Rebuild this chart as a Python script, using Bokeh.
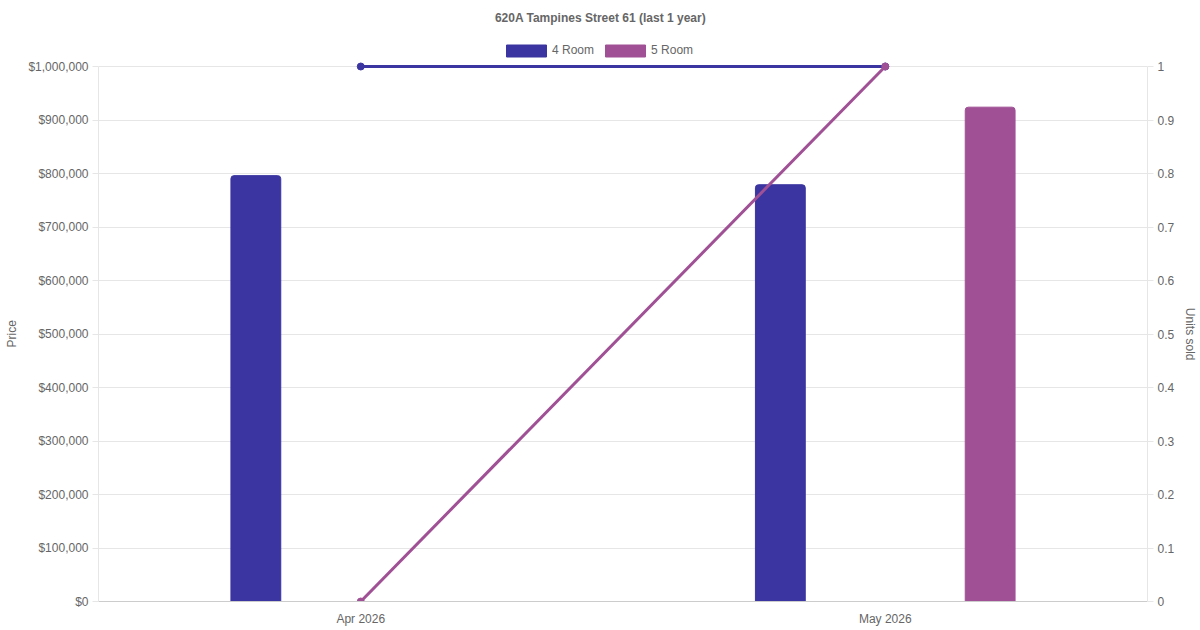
from bokeh.plotting import figure
from bokeh.models import (FactorRange, Range1d, LinearAxis, NumeralTickFormatter, Legend,
                          LegendItem, ColumnDataSource, FixedTicker, Label, Title)
from bokeh.transform import dodge
from bokeh.embed import file_html
from bokeh.resources import INLINE

# ---- data ----
months = ["Apr 2026", "May 2026"]
price_4room = [796000, 779000]
price_5room = [None, 924000]
units_4room = [1, 1]
units_5room = [0, 1]
chart_title = "620A Tampines Street 61 (last 1 year)"
left_label = "Price"
right_label = "Units sold"
price_ticks = [0, 100000, 200000, 300000, 400000, 500000, 600000, 700000, 800000, 900000, 1000000]
unit_ticks = [0, 0.1, 0.2, 0.3, 0.4, 0.5, 0.6, 0.7, 0.8, 0.9, 1]
price_max = 1_000_000
units_max = 1

# ---- layout / style ----
W, H = 1200, 630
AXIS_TOP = 66        # pixel row of the top tick (max value)
FRAME_BOTTOM = 601   # pixel row of the zero line
FRAME_LEFT = 98
FRAME_RIGHT = 1147
C4 = "#3a35a0"
C5 = "#a05195"
FONT = "Liberation Sans"
TXT = "#666666"
GRID = "#e6e6e6"

# the frame reaches the top of the canvas so that title and legend can sit in it;
# scale the range so that the max tick sits at AXIS_TOP
ext = FRAME_BOTTOM / (FRAME_BOTTOM - AXIS_TOP)

src = ColumnDataSource(dict(
    month=months,
    p4=[float("nan") if v is None else v for v in price_4room],
    p5=[float("nan") if v is None else v for v in price_5room],
    u4=units_4room,
    u5=units_5room,
))

p = figure(x_range=FactorRange(*months), y_range=Range1d(0, price_max * ext),
           width=W, height=H, output_backend="svg", toolbar_location=None, title=None,
           min_border_left=FRAME_LEFT, min_border_right=W - FRAME_RIGHT,
           min_border_top=0, min_border_bottom=H - FRAME_BOTTOM)
p.extra_y_ranges = {"units": Range1d(0, units_max * ext)}
p.x_range.range_padding = 0

b4 = p.vbar(x=dodge("month", -0.2, range=p.x_range), top="p4", width=0.095, source=src,
            fill_color=C4, line_color=C4, border_radius=(3, 3, 0, 0))
b5 = p.vbar(x=dodge("month", 0.2, range=p.x_range), top="p5", width=0.095, source=src,
            fill_color=C5, line_color=C5, border_radius=(3, 3, 0, 0))

p.line(x="month", y="u4", source=src, y_range_name="units", line_color=C4, line_width=3)
p.scatter(x="month", y="u4", source=src, y_range_name="units", size=7, fill_color=C4, line_color=C4)
p.line(x="month", y="u5", source=src, y_range_name="units", line_color=C5, line_width=3)
p.scatter(x="month", y="u5", source=src, y_range_name="units", size=7, fill_color=C5, line_color=C5)

# title (inside the frame's top strip)
p.add_layout(Label(x=W / 2 - FRAME_LEFT, y=FRAME_BOTTOM - 17, x_units="screen", y_units="screen",
                   text=chart_title, text_align="center", text_baseline="middle",
                   text_font=FONT, text_font_size="12px", text_font_style="bold",
                   text_color=TXT))

def tick_style(ax):
    ax.major_label_text_font = FONT
    ax.major_label_text_font_size = "12px"
    ax.major_label_text_color = TXT
    ax.major_label_standoff = 4
    ax.major_tick_out = 6
    ax.major_tick_in = 0
    ax.major_tick_line_color = GRID
    ax.minor_tick_line_color = None
    ax.axis_line_color = GRID

# left axis
ya = p.yaxis[0]
ya.ticker = FixedTicker(ticks=price_ticks)
ya.bounds = (0, price_max)
ya.formatter = NumeralTickFormatter(format="$0,0")
tick_style(ya)

# right axis
ra = LinearAxis(y_range_name="units", ticker=FixedTicker(ticks=unit_ticks),
                formatter=NumeralTickFormatter(format="0.[0]"), bounds=(0, units_max))
tick_style(ra)
p.add_layout(ra, "right")

# axis titles, centred on the bounded axes (0 .. max)
p.add_layout(Title(text=left_label, align="left", offset=254, vertical_align="top",
                   standoff=9, text_font=FONT, text_font_size="12px",
                   text_font_style="normal", text_color=TXT), "left")
p.add_layout(Title(text=right_label, align="right", offset=241, vertical_align="top",
                   standoff=6, text_font=FONT, text_font_size="12px",
                   text_font_style="normal", text_color=TXT), "right")

# x axis
xa = p.xaxis[0]
xa.major_label_text_font = FONT
xa.major_label_text_font_size = "12px"
xa.major_label_text_color = TXT
xa.major_label_standoff = 10
xa.major_tick_line_color = None
xa.major_tick_out = 0
xa.axis_line_color = "#cccccc"

p.xgrid.visible = False
p.ygrid.ticker = FixedTicker(ticks=price_ticks)
p.ygrid.grid_line_color = GRID
p.outline_line_color = None

legend = Legend(items=[LegendItem(label="4 Room", renderers=[b4]),
                       LegendItem(label="5 Room", renderers=[b5])],
                orientation="horizontal", location=(501 - FRAME_LEFT, FRAME_BOTTOM - 57.5),
                glyph_width=50, glyph_height=15, label_height=15,
                label_text_font=FONT, label_text_font_size="12px", label_text_color=TXT,
                label_standoff=1, spacing=6, padding=0, margin=0,
                border_line_color=None, background_fill_alpha=0)
p.add_layout(legend, "center")

open("out.html", "w").write(file_html(p, INLINE))
